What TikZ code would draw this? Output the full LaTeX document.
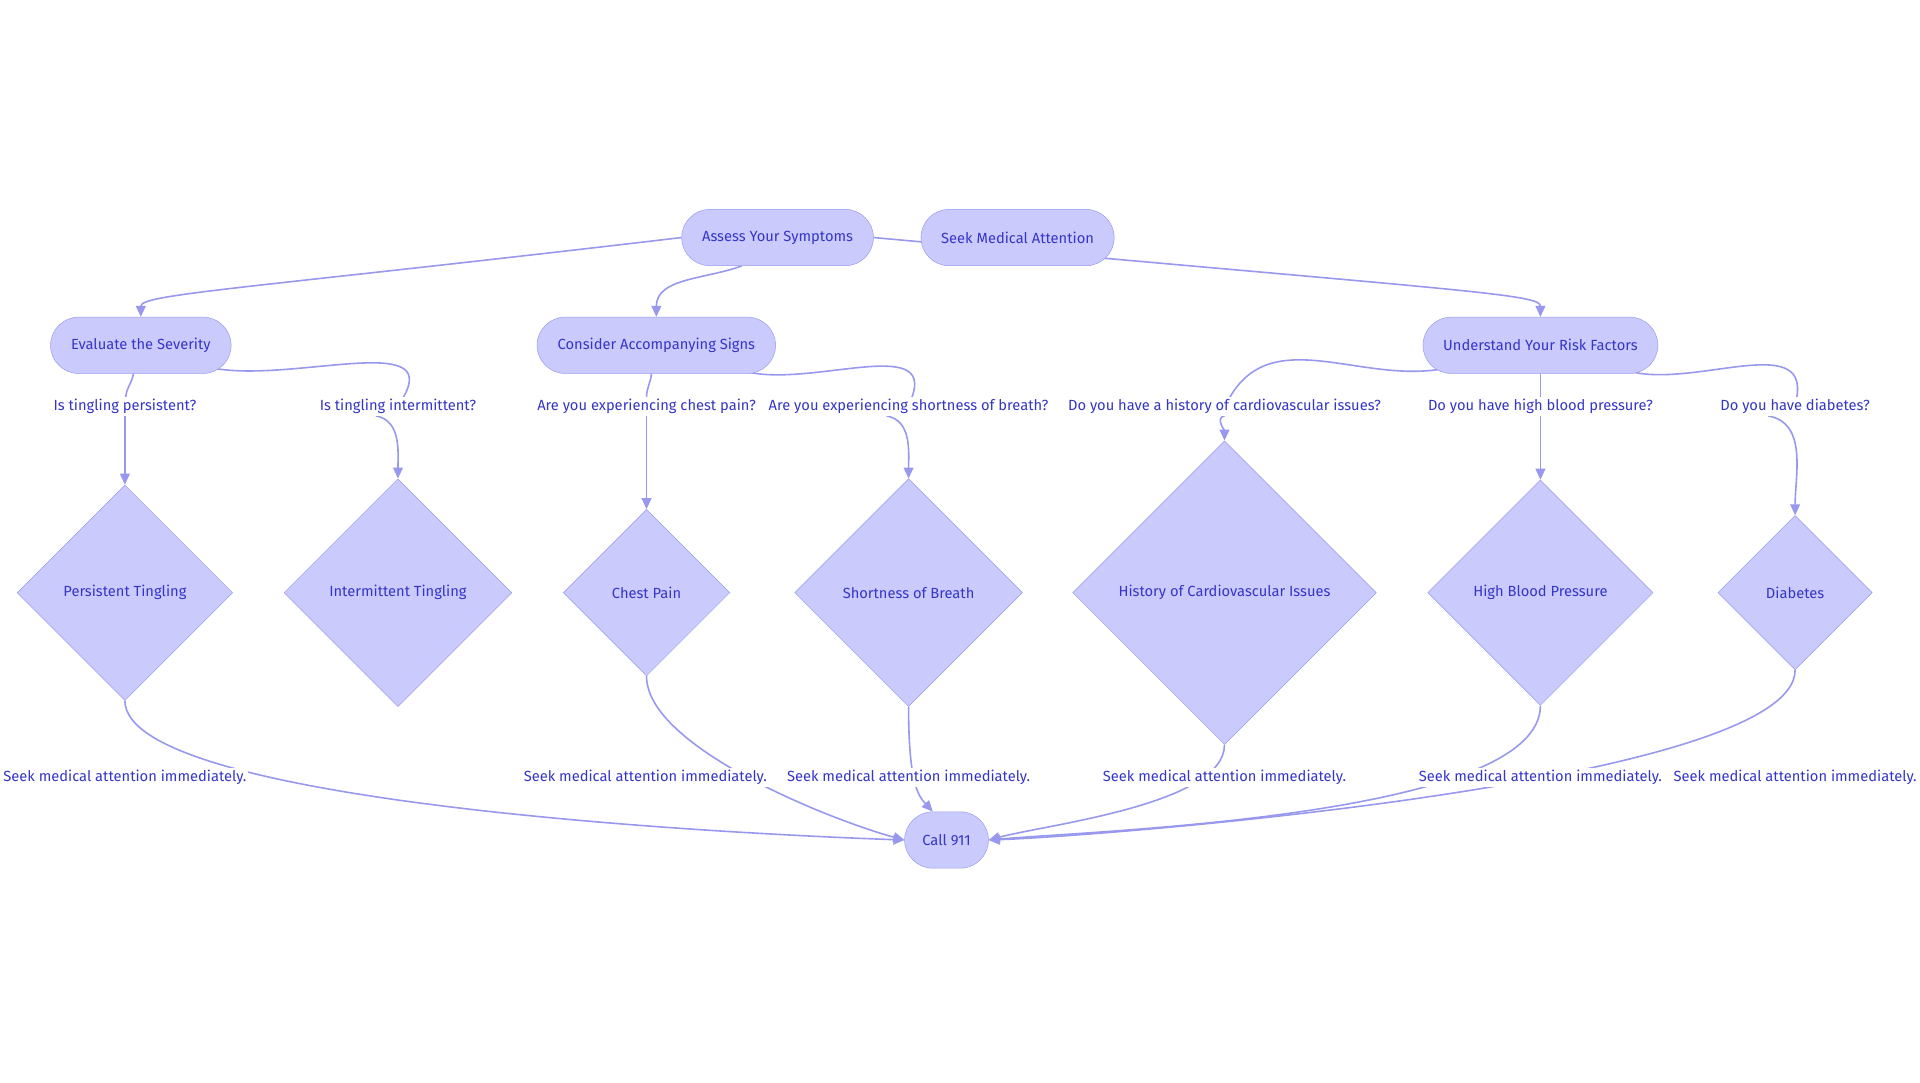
\documentclass[tikz,border=0pt]{standalone}
\usepackage{fontspec}
\setmainfont{Fira Sans}
\usetikzlibrary{shapes.geometric,arrows.meta,backgrounds}
\definecolor{nfill}{HTML}{CACBFC}
\definecolor{nline}{HTML}{9898EE}
\definecolor{ntext}{HTML}{3535C8}
\tikzset{
  box/.style={rounded rectangle, draw=nline, fill=nfill, text=ntext, minimum height=46, inner xsep=16, font=\fontsize{12}{14}\selectfont},
  dia/.style={diamond, draw=nline, fill=nfill, text=ntext, aspect=1, inner sep=0, font=\fontsize{12}{14}\selectfont},
  lbl/.style={fill=white, text=ntext, inner sep=1.5, font=\fontsize{12}{14}\selectfont},
  edge/.style={draw=nline, line width=1.3, -{Triangle[length=9,width=8]}},
}
\usetikzlibrary{shapes.misc}
\begin{document}
\begin{tikzpicture}[x=1pt,y=-1pt]
  \useasboundingbox (0,0) rectangle (1568,884);

  % Top row
  \node[box] (assess) at (635,194) {Assess Your Symptoms};
  \node[box] (seek) at (831,194) {Seek Medical Attention};

  % Second row
  \node[box] (eval) at (115,282) {Evaluate the Severity};
  \node[box] (cons) at (536,282) {Consider Accompanying Signs};
  \node[box] (risk) at (1258,282) {Understand Your Risk Factors};

  % Diamonds
  \node[dia, minimum size=176] (pers) at (102,484) {Persistent Tingling};
  \node[dia, minimum size=186] (inter) at (325,484) {Intermittent Tingling};
  \node[dia, minimum size=136] (chest) at (528,484) {Chest Pain};
  \node[dia, minimum size=186] (breath) at (742,484) {Shortness of Breath};
  \node[dia, minimum size=248] (cardio) at (1000,484) {History of Cardiovascular Issues};
  \node[dia, minimum size=184] (bp) at (1258,484) {High Blood Pressure};
  \node[dia, minimum size=126] (diab) at (1466,484) {Diabetes};

  % Final node
  \node[box, inner xsep=14] (call) at (773,686) {Call 911};

  % Question labels
  \node[lbl] (q1) at (102,332) {Is tingling persistent?};
  \node[lbl] (q2) at (325,332) {Is tingling intermittent?};
  \node[lbl] (q3) at (528,332) {Are you experiencing chest pain?};
  \node[lbl] (q4) at (742,332) {Are you experiencing shortness of breath?};
  \node[lbl] (q5) at (1000,332) {Do you have a history of cardiovascular issues?};
  \node[lbl] (q6) at (1258,332) {Do you have high blood pressure?};
  \node[lbl] (q7) at (1466,332) {Do you have diabetes?};

  % Answer labels
  \foreach \n/\x in {a1/102,a2/527,a3/742,a4/1000,a5/1258,a6/1466}
    \node[lbl] (\n) at (\x,635) {Seek medical attention immediately.};

  \begin{scope}[on background layer]
    % Top edges
    \draw[edge] (assess.west) .. controls (200,236) and (115,240) .. (eval.north);
    \draw[edge] (assess.south west) ++(26,0) to[out=200,in=90] (cons.north);
    \draw[edge] (assess.east) .. controls (1200,238) and (1258,240) .. (risk.north);

    % Edges to questions
    \draw[edge, -] (eval.south) ++(-6,0) to[out=-100,in=85] (q1);
    \draw[edge, -] (eval.south east) ++(2,-6) to[out=-15,in=60] (q2);
    \draw[edge, -] (cons.south) ++(-4,0) to[out=-95,in=90] (q3);
    \draw[edge, -] (cons.south east) ++(-2,-2) to[out=-15,in=70] (q4);
    \draw[edge, -] (risk.south west) ++(2,-6) to[out=195,in=60] (q5);
    \draw[edge, -] (risk.south) -- (q6);
    \draw[edge, -] (risk.south east) ++(0,-2) to[out=-15,in=80] (q7);

    % Questions to diamonds
    \draw[edge] (q1) -- (pers.north);
    \draw[edge] (q2.south) ++(-18,0) to[out=-10,in=90] (inter.north);
    \draw[edge] (q3) -- (chest.north);
    \draw[edge] (q4.south) ++(-18,0) to[out=-10,in=90] (breath.north);
    \draw[edge] (q5.south) to[out=190,in=90] (cardio.north);
    \draw[edge] (q6) -- (bp.north);
    \draw[edge] (q7.south) ++(-22,0) to[out=-10,in=90] (diab.north);

    % Diamonds to Call 911
    \draw[edge] (pers.south) to[out=-90,in=178,looseness=0.35] (call.west);
    \draw[edge] (chest.south) to[out=-90,in=165,looseness=0.6] (call.west);
    \draw[edge] (breath.south) .. controls (742,640) and (750,650) .. (call.north west);
    \draw[edge] (cardio.south) to[out=-90,in=15,looseness=0.6] (call.east);
    \draw[edge] (bp.south) to[out=-90,in=5,looseness=0.5] (call.east);
    \draw[edge] (diab.south) to[out=-90,in=2,looseness=0.35] (call.east);
  \end{scope}
\end{tikzpicture}
\end{document}
